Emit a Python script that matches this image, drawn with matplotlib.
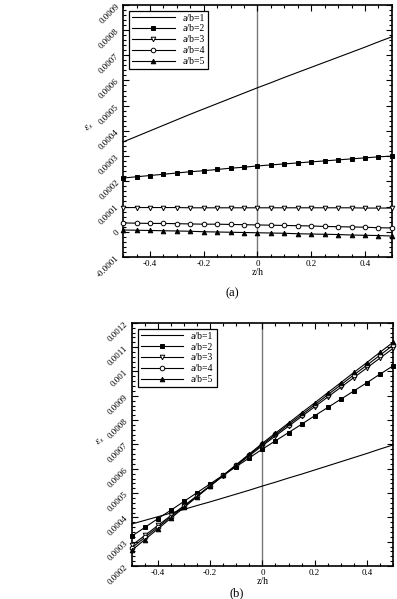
import matplotlib
matplotlib.use('Agg')
import matplotlib.pyplot as plt
from matplotlib.ticker import MultipleLocator, FuncFormatter

plt.rcParams['font.family'] = ['Liberation Serif', 'DejaVu Serif']
plt.rcParams['mathtext.fontset'] = 'stix'

# z/h positions (21 points, step 0.05)
z = [-0.5, -0.45, -0.4, -0.35, -0.3, -0.25, -0.2, -0.15, -0.1, -0.05, 0.0,
     0.05, 0.1, 0.15, 0.2, 0.25, 0.3, 0.35, 0.4, 0.45, 0.5]
labels = ['a/b=1', 'a/b=2', 'a/b=3', 'a/b=4', 'a/b=5']

# (a)
a_ab1 = [0.000356, 0.000378, 0.000400, 0.000422, 0.000444, 0.000466, 0.000487, 0.000508, 0.000529, 0.000550,
         0.000571, 0.000591, 0.000612, 0.000632, 0.000652, 0.000672, 0.000692, 0.000712, 0.000732, 0.000753, 0.000773]
a_ab2 = [0.000213, 0.000218, 0.000223, 0.000228, 0.000233, 0.000238, 0.000242, 0.000247, 0.000252, 0.000256,
         0.000261, 0.000265, 0.000269, 0.000273, 0.000277, 0.000281, 0.000285, 0.000289, 0.000293, 0.000297, 0.000300]
a_ab3 = [0.000096, 0.000096, 0.000096, 0.000096, 0.000096, 0.000095, 0.000095, 0.000095, 0.000095, 0.000095,
         0.000095, 0.000095, 0.000095, 0.000095, 0.000095, 0.000095, 0.000095, 0.000095, 0.000094, 0.000094, 0.000094]
a_ab4 = [0.000035, 0.000034, 0.000033, 0.000033, 0.000032, 0.000031, 0.000030, 0.000030, 0.000029, 0.000028,
         0.000027, 0.000026, 0.000025, 0.000024, 0.000023, 0.000021, 0.000020, 0.000019, 0.000018, 0.000016, 0.000015]
a_ab5 = [0.000007, 0.000006, 0.000005, 0.000004, 0.000003, 0.000002, 0.000000, -0.000001, -0.000002, -0.000003,
         -0.000004, -0.000005, -0.000006, -0.000008, -0.000009, -0.000010, -0.000011, -0.000013, -0.000014, -0.000015, -0.000017]

# (b)
b_ab1 = [0.000373, 0.000388, 0.000403, 0.000418, 0.000433, 0.000449, 0.000464, 0.000480, 0.000496, 0.000512,
         0.000529, 0.000545, 0.000562, 0.000578, 0.000595, 0.000612, 0.000629, 0.000646, 0.000663, 0.000681, 0.000698]
b_ab2 = [0.000323, 0.000359, 0.000395, 0.000430, 0.000466, 0.000502, 0.000538, 0.000574, 0.000609, 0.000645,
         0.000681, 0.000715, 0.000749, 0.000783, 0.000818, 0.000852, 0.000886, 0.000920, 0.000954, 0.000989, 0.001023]
b_ab3 = [0.000285, 0.000326, 0.000367, 0.000408, 0.000448, 0.000489, 0.000530, 0.000571, 0.000613, 0.000654,
         0.000695, 0.000735, 0.000775, 0.000815, 0.000855, 0.000895, 0.000935, 0.000975, 0.001015, 0.001055, 0.001095]
b_ab4 = [0.000275, 0.000318, 0.000360, 0.000403, 0.000446, 0.000488, 0.000530, 0.000573, 0.000615, 0.000658,
         0.000700, 0.000741, 0.000782, 0.000822, 0.000863, 0.000904, 0.000945, 0.000986, 0.001026, 0.001067, 0.001108]
b_ab5 = [0.000265, 0.000309, 0.000353, 0.000397, 0.000441, 0.000485, 0.000529, 0.000573, 0.000617, 0.000661,
         0.000705, 0.000747, 0.000788, 0.000830, 0.000871, 0.000913, 0.000954, 0.000996, 0.001037, 0.001079, 0.001120]

styles = [dict(marker=None),
          dict(marker='s', mfc='black'),
          dict(marker='v', mfc='white'),
          dict(marker='o', mfc='white'),
          dict(marker='^', mfc='black')]


def draw(ax, series, ylim):
    ax.axvline(0, color='#777777', lw=1.0, zorder=1)
    for s, lab, st in zip(series, labels, styles):
        ax.plot(z, s, color='black', lw=0.8, ms=3.3, mec='black', mew=0.7,
                label=lab, zorder=3, clip_on=False, **st)
    ax.set_xlim(-0.5, 0.5)
    ax.set_ylim(*ylim)
    ax.xaxis.set_major_locator(MultipleLocator(0.2))
    ax.xaxis.set_minor_locator(MultipleLocator(0.05))
    ax.yaxis.set_major_locator(MultipleLocator(0.0001))
    ax.yaxis.set_minor_locator(MultipleLocator(0.00002))
    ax.xaxis.set_major_formatter(FuncFormatter(lambda v, p: f'{round(v, 3):g}'))
    ax.yaxis.set_major_formatter(FuncFormatter(lambda v, p: f'{round(v, 6):g}'))
    ax.tick_params(which='both', direction='in', top=True, right=True, labelsize=6.5, width=0.8)
    ax.tick_params(which='major', length=4)
    ax.tick_params(which='minor', length=2.5)
    ax.tick_params(axis='x', pad=2)
    for t in ax.get_yticklabels():
        t.set_rotation(45)
        t.set_rotation_mode('anchor')
        t.set_ha('right')
        t.set_va('center')
    for sp in ax.spines.values():
        sp.set_linewidth(1.2)
    ax.set_xlabel('z/h', fontsize=7, labelpad=0)
    ax.set_ylabel(r'$\varepsilon_x$', fontsize=7, rotation=45, labelpad=2)
    leg = ax.legend(loc='upper left', fontsize=7, frameon=True, fancybox=False,
                    edgecolor='black', framealpha=1, handlelength=4.4, borderpad=0.3,
                    labelspacing=0.2, handletextpad=0.8, borderaxespad=0.6)
    leg.get_frame().set_linewidth(0.9)


fig = plt.figure(figsize=(3.97, 5.99), dpi=100)
ax1 = fig.add_axes([0.310, 0.571, 0.677, 0.421])
ax2 = fig.add_axes([0.332, 0.055, 0.658, 0.406])

draw(ax1, [a_ab1, a_ab2, a_ab3, a_ab4, a_ab5], (-0.0001, 0.0009))
draw(ax2, [b_ab1, b_ab2, b_ab3, b_ab4, b_ab5], (0.0002, 0.0012))

fig.text(0.584, 0.511, '(a)', fontsize=9, ha='center', va='center')
fig.text(0.597, 0.010, '(b)', fontsize=9, ha='center', va='center')

fig.savefig('out.png', dpi=100)
